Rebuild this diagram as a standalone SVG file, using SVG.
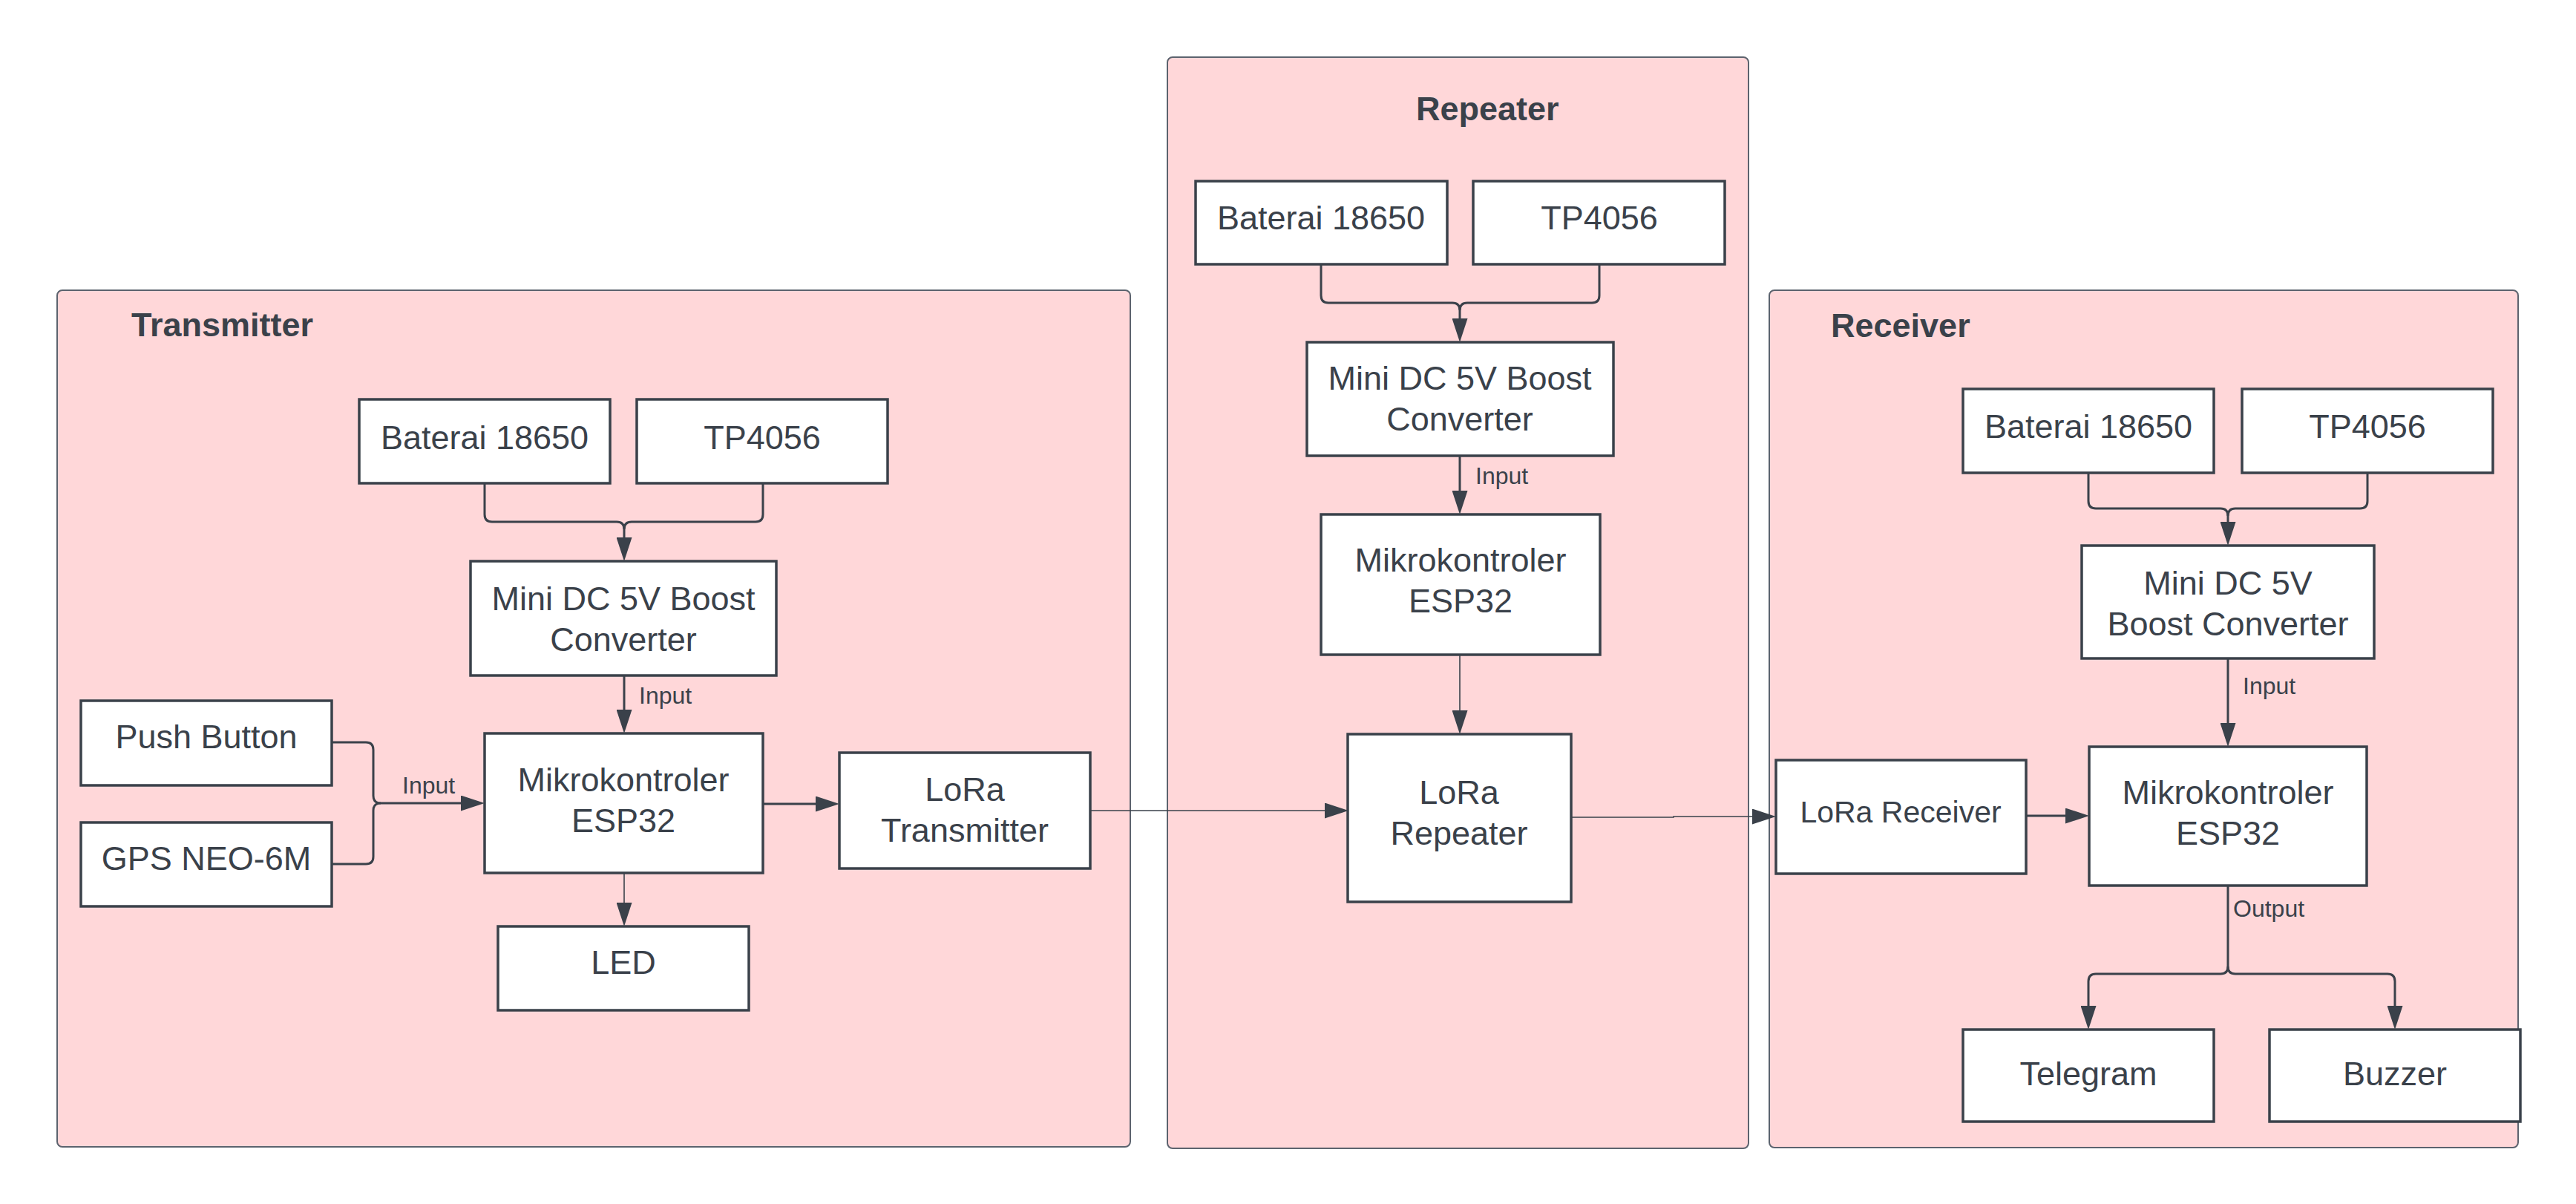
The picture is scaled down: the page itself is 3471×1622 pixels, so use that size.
<svg xmlns="http://www.w3.org/2000/svg" width="3471" height="1622" viewBox="0 0 3471 1622">
<defs>
<style>
.bg{fill:#ffffff}
.cont{fill:#ffd7d9;stroke:#5c636e;stroke-width:2}
.node{fill:#ffffff;stroke:#3a414a;stroke-width:3.5}
.t{font-family:"Liberation Sans",Arial,sans-serif;font-size:45px;fill:#3a414a;text-anchor:middle}
.t41{font-family:"Liberation Sans",Arial,sans-serif;font-size:41px;fill:#3a414a;text-anchor:middle}
.title{font-family:"Liberation Sans",Arial,sans-serif;font-size:45px;font-weight:bold;fill:#3a414a}
.lbl{font-family:"Liberation Sans",Arial,sans-serif;font-size:32px;fill:#3a414a}
.c{fill:none;stroke:#3a414a;stroke-width:3}
.ct{fill:none;stroke:#3a414a;stroke-width:1.6}
.arr{marker-end:url(#ah)}
</style>
<marker id="ah" viewBox="0 0 32 21" refX="0" refY="10.5" markerWidth="32" markerHeight="21" markerUnits="userSpaceOnUse" orient="auto">
<path d="M0,0 L32,10.5 L0,21 z" fill="#3a414a"/>
</marker>
</defs>
<rect class="bg" x="0" y="0" width="3471" height="1622"/>

<g id="containers">
<g id="transmitter-group">
<rect class="cont" x="77" y="391" width="1446" height="1154" rx="7"/>
<text class="title" x="177" y="453">Transmitter</text>
</g>
<g id="repeater-group">
<rect class="cont" x="1573" y="77" width="783" height="1470" rx="7"/>
<text class="title" x="1908" y="162">Repeater</text>
</g>
<g id="receiver-group">
<rect class="cont" x="2384" y="391" width="1009" height="1155" rx="7"/>
<text class="title" x="2467" y="454">Receiver</text>
</g>
</g>

<g id="connectors">
<!-- Transmitter -->
<path class="c arr" d="M653,651 V693 Q653,703 663,703 H831 Q841,703 841,713 V724"/>
<path class="c" d="M1028,651 V693 Q1028,703 1018,703 H851 Q841,703 841,713"/>
<path class="c arr" d="M841,910 V956"/>
<path class="c arr" d="M447,1000 H493 Q503,1000 503,1010 V1072 Q503,1082 513,1082 H621"/>
<path class="c" d="M447,1164 H493 Q503,1164 503,1154 V1092 Q503,1082 513,1082"/>
<path class="c arr" d="M1028,1083 H1099"/>
<path class="ct arr" d="M841,1176 V1216"/>
<path class="ct arr" d="M1469,1092 H1785"/>
<!-- Repeater -->
<path class="c arr" d="M1780,356 V398 Q1780,408 1790,408 H1957 Q1967,408 1967,418 V429"/>
<path class="c" d="M2155,356 V398 Q2155,408 2145,408 H1977 Q1967,408 1967,418"/>
<path class="c arr" d="M1967,614 V661"/>
<path class="ct arr" d="M1967,882 V957"/>
<path class="ct arr" d="M2117,1101 H2255 V1100 H2361"/>
<!-- Receiver -->
<path class="c arr" d="M2814,637 V675 Q2814,685 2824,685 H2992 Q3002,685 3002,695 V703"/>
<path class="c" d="M3190,637 V675 Q3190,685 3180,685 H3012 Q3002,685 3002,695"/>
<path class="c arr" d="M3002,887 V974"/>
<path class="c arr" d="M2730,1099 H2783"/>
<path class="c arr" d="M3002,1194 V1302 Q3002,1312 2992,1312 H2824 Q2814,1312 2814,1322 V1355"/>
<path class="c arr" d="M3002,1302 Q3002,1312 3012,1312 H3217 Q3227,1312 3227,1322 V1355"/>
</g>

<g id="labels">
<text class="lbl" x="861" y="948">Input</text>
<text class="lbl" x="542" y="1069">Input</text>
<text class="lbl" x="1988" y="652">Input</text>
<text class="lbl" x="3022" y="935">Input</text>
<text class="lbl" x="3009" y="1235">Output</text>
</g>

<!-- Transmitter nodes -->
<g id="tx-baterai"><rect class="node" x="484" y="538" width="338" height="113"/><text class="t" x="653" y="605">Baterai 18650</text></g>
<g id="tx-tp4056"><rect class="node" x="858" y="538" width="338" height="113"/><text class="t" x="1027" y="605">TP4056</text></g>
<g id="tx-boost"><rect class="node" x="634" y="756" width="412" height="154"/><text class="t" x="840" y="822">Mini DC 5V Boost</text><text class="t" x="840" y="877">Converter</text></g>
<g id="tx-push"><rect class="node" x="109" y="944" width="338" height="114"/><text class="t" x="278" y="1008">Push Button</text></g>
<g id="tx-gps"><rect class="node" x="109" y="1108" width="338" height="113"/><text class="t" x="278" y="1172">GPS NEO-6M</text></g>
<g id="tx-esp32"><rect class="node" x="653" y="988" width="375" height="188"/><text class="t" x="840" y="1066">Mikrokontroler</text><text class="t" x="840" y="1121">ESP32</text></g>
<g id="tx-lora"><rect class="node" x="1131" y="1014" width="338" height="156"/><text class="t" x="1300" y="1079">LoRa</text><text class="t" x="1300" y="1134">Transmitter</text></g>
<g id="tx-led"><rect class="node" x="671" y="1248" width="338" height="113"/><text class="t" x="840" y="1312">LED</text></g>

<!-- Repeater nodes -->
<g id="rp-baterai"><rect class="node" x="1611" y="244" width="339" height="112"/><text class="t" x="1780" y="309">Baterai 18650</text></g>
<g id="rp-tp4056"><rect class="node" x="1985" y="244" width="339" height="112"/><text class="t" x="2155" y="309">TP4056</text></g>
<g id="rp-boost"><rect class="node" x="1761" y="461" width="413" height="153"/><text class="t" x="1967" y="525">Mini DC 5V Boost</text><text class="t" x="1967" y="580">Converter</text></g>
<g id="rp-esp32"><rect class="node" x="1780" y="693" width="376" height="189"/><text class="t" x="1968" y="770">Mikrokontroler</text><text class="t" x="1968" y="825">ESP32</text></g>
<g id="rp-lora"><rect class="node" x="1816" y="989" width="301" height="226"/><text class="t" x="1966" y="1083">LoRa</text><text class="t" x="1966" y="1138">Repeater</text></g>

<!-- Receiver nodes -->
<g id="rx-baterai"><rect class="node" x="2645" y="524" width="338" height="113"/><text class="t" x="2814" y="590">Baterai 18650</text></g>
<g id="rx-tp4056"><rect class="node" x="3021" y="524" width="338" height="113"/><text class="t" x="3190" y="590">TP4056</text></g>
<g id="rx-boost"><rect class="node" x="2805" y="735" width="394" height="152"/><text class="t" x="3002" y="801">Mini DC 5V</text><text class="t" x="3002" y="856">Boost Converter</text></g>
<g id="rx-esp32"><rect class="node" x="2815" y="1006" width="374" height="187"/><text class="t" x="3002" y="1083">Mikrokontroler</text><text class="t" x="3002" y="1138">ESP32</text></g>
<g id="rx-lora"><rect class="node" x="2393" y="1024" width="337" height="153"/><text class="t41" x="2561" y="1108">LoRa Receiver</text></g>
<g id="rx-telegram"><rect class="node" x="2645" y="1387" width="338" height="124"/><text class="t" x="2814" y="1462">Telegram</text></g>
<g id="rx-buzzer"><rect class="node" x="3058" y="1387" width="338" height="124"/><text class="t" x="3227" y="1462">Buzzer</text></g>
</svg>
